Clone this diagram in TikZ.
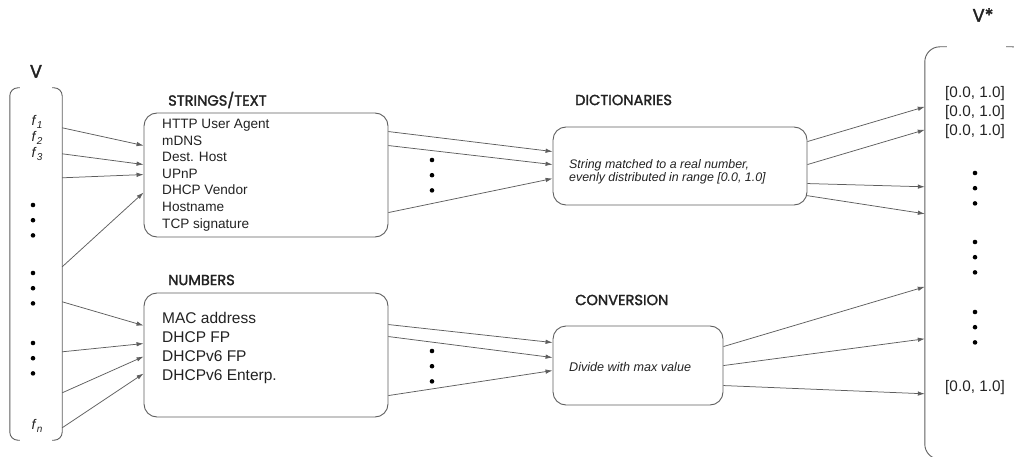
\documentclass[tikz,border=0pt]{standalone}
\usepackage{fontspec}
\setmainfont{Liberation Sans}
\newfontfamily\headfont{Poppins}[FakeBold=1.9]
\newfontfamily\vfont{Poppins}[FakeBold=1.9]
\usetikzlibrary{positioning}
\usetikzlibrary{arrows.meta}
\definecolor{linegray}{HTML}{5E5E5E}
\definecolor{textgray}{HTML}{222222}
\newcommand{\feat}[1]{\textit{f}\raisebox{-3pt}{\fontsize{10}{10}\selectfont\textit{#1}}}
\tikzset{x=1pt, y=-1pt,
      every node/.style={inner sep=0pt, text=textgray}, % text colour everywhere
      box/.style={draw=linegray, line width=0.9pt, rounded corners=13pt},
      bracket/.style={draw=linegray, line width=0.9pt, rounded corners=8pt},
      heading/.style={anchor=west, font=\headfont\fontsize{14.6}{16}\selectfont},
      vlabel/.style={font=\vfont\fontsize{18}{20}\selectfont},
      feed/.style={ % every connector between the columns
      draw=linegray,
      line width=0.75pt,
      -{Latex[length=7pt,width=4.5pt]}}}
\begin{document}
\begin{tikzpicture}
      \useasboundingbox (0,0) rectangle (1014,457);
      % input vector V
      \node[minimum width=52pt, minimum height=352pt] (vin) at (36,264) {};
      \draw[bracket] ([xshift=10pt]vin.north west) -- (vin.north west) -- (vin.south west) -- ([xshift=10pt]vin.south west);
      \draw[bracket] ([xshift=-10pt]vin.north east) -- (vin.north east) -- (vin.south east) -- ([xshift=-10pt]vin.south east);
      \node[vlabel, above=10pt of vin] (vname) {V};
      \node[font=\fontsize{14}{14}\selectfont] (f1) at (37,122) {\feat{1}};
      \node[font=\fontsize{14}{14}\selectfont] (f2) at (37,138) {\feat{2}};
      \node[font=\fontsize{14}{14}\selectfont] (f3) at (37,154) {\feat{3}};
      \node[font=\fontsize{14}{14}\selectfont] (fn) at (37,426) {\feat{n}};

      % feature groups
      \node[box, minimum width=244pt, minimum height=124pt] (strings) at (266,175) {};
      \node[anchor=west, align=left, font=\fontsize{13.6}{16.6}\selectfont] (stringlist) at (162,175)
            {HTTP User Agent\\mDNS\\Dest. Host\\UPnP\\DHCP Vendor\\Hostname\\TCP signature};
      \node[heading] (stringhead) at (168,100) {STRINGS/TEXT};
      \node[box, minimum width=244pt, minimum height=124pt] (numbers) at (266,355) {};
      \node[anchor=west, align=left, font=\fontsize{15.5}{19.3}\selectfont] (numberlist) at (162,348)
            {MAC address\\DHCP FP\\DHCPv6 FP\\DHCPv6 Enterp.};
      \node[heading] (numberhead) at (168,280) {NUMBERS};

      % mappings
      \node[box, minimum width=254pt, minimum height=78pt] (dict) at (680,166) {};
      \node[anchor=west, align=left, font=\itshape\fontsize{12.4}{12.6}\selectfont] (dicttext) at (569,172)
            {String matched to a real number,\\evenly distributed in range [0.0, 1.0]};
      \node[heading] (dicthead) at (575,100) {DICTIONARIES};
      \node[box, minimum width=170pt, minimum height=79pt] (conv) at (638,365.5) {};
      \node[anchor=west, font=\itshape\fontsize{12.6}{14}\selectfont] (convtext) at (569,367) {Divide with max value};
      \node[heading] (convhead) at (575,300) {CONVERSION};

      % output vector V*
      \node[minimum width=90pt, minimum height=412pt] (vout) at (970,253) {};
      \begin{scope}
      \clip (0,0) rectangle (1014,457);
      \draw[bracket, rounded corners=15pt] ([xshift=22pt]vout.north west) -- (vout.north west) -- (vout.south west) -- ([xshift=22pt]vout.south west);
      \draw[bracket, rounded corners=15pt] ([xshift=-9pt]vout.north east) -- ([xshift=12pt]vout.north east) -- ([xshift=12pt]vout.south east);
      \end{scope}
      \node[vlabel] (vstar) at (983,15) {V*};
      \node[font=\fontsize{15.3}{16}\selectfont] (o1) at (975,94) {[0.0, 1.0]};
      \node[font=\fontsize{15.3}{16}\selectfont] (o2) at (975,113) {[0.0, 1.0]};
      \node[font=\fontsize{15.3}{16}\selectfont] (o3) at (975,132) {[0.0, 1.0]};
      \node[font=\fontsize{15.3}{16}\selectfont] (on) at (975,388) {[0.0, 1.0]};

      % vertical ellipses
      \foreach \x/\y in {33/205, 33/273, 33/343, 432/160, 432/351, 975/173, 975/242, 975/312}
            \foreach \k in {0,1,2}
                  \fill[black] (\x,\y+\k*15.2) circle (2.3pt);

      % V to the groups
      \draw[feed] ([yshift=-40pt]vin.north east) -- ([yshift=-33pt]strings.north west);
      \draw[feed] ([yshift=-66pt]vin.north east) -- ([yshift=-52pt]strings.north west);
      \draw[feed] ([yshift=-90pt]vin.north east) -- ([yshift=-62pt]strings.north west);
      \draw[feed] ([yshift=-179pt]vin.north east) -- ([yshift=-80pt]strings.north west);
      \draw[feed] ([yshift=-214pt]vin.north east) -- ([yshift=-33pt]numbers.north west);
      \draw[feed] ([yshift=-264pt]vin.north east) -- ([yshift=-51pt]numbers.north west);
      \draw[feed] ([yshift=-305pt]vin.north east) -- ([yshift=-64pt]numbers.north west);
      \draw[feed] ([yshift=-340pt]vin.north east) -- ([yshift=-81pt]numbers.north west);
      % groups to mappings
      \draw[feed] ([yshift=-19pt]strings.north east) -- ([yshift=-25pt]dict.north west);
      \draw[feed] ([yshift=-33pt]strings.north east) -- ([yshift=-38pt]dict.north west);
      \draw[feed] ([yshift=-100pt]strings.north east) -- ([yshift=-52pt]dict.north west);
      \draw[feed] ([yshift=-32pt]numbers.north east) -- ([yshift=-17pt]conv.north west);
      \draw[feed] ([yshift=-44pt]numbers.north east) -- ([yshift=-32pt]conv.north west);
      \draw[feed] ([yshift=-103pt]numbers.north east) -- ([yshift=-45pt]conv.north west);
      % mappings to V*
      \draw[feed] ([yshift=-15pt]dict.north east) -- ([yshift=-60pt]vout.north west);
      \draw[feed] ([yshift=-38pt]dict.north east) -- ([yshift=-83pt]vout.north west);
      \draw[feed] ([yshift=-57pt]dict.north east) -- ([yshift=-140pt]vout.north west);
      \draw[feed] ([xshift=-1pt,yshift=-69pt]dict.north east) -- ([yshift=-167pt]vout.north west);
      \draw[feed] ([yshift=-21pt]conv.north east) -- ([yshift=-240pt]vout.north west);
      \draw[feed] ([yshift=-40pt]conv.north east) -- ([yshift=-292pt]vout.north west);
      \draw[feed] ([yshift=-60pt]conv.north east) -- ([yshift=-347pt]vout.north west);
    \end{tikzpicture}
\end{document}
